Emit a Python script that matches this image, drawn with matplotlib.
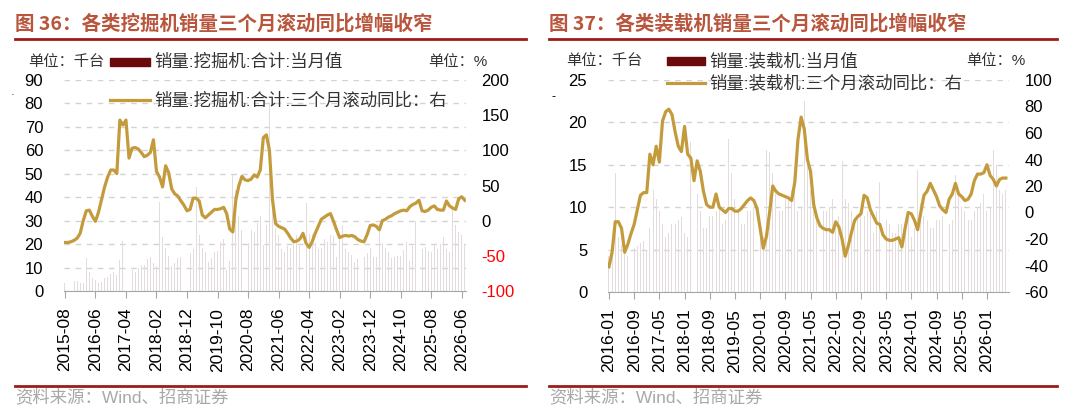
import numpy as np
import pandas as pd
import matplotlib
matplotlib.use("Agg")
import matplotlib.pyplot as plt
from matplotlib.lines import Line2D
from matplotlib.patches import Rectangle

plt.rcParams["font.family"] = ["Liberation Sans", "Noto Sans CJK SC"]

# ---- 挖掘机 (2015-08 .. 2026-07), 千台 / %
exc_months = pd.period_range("2015-08", periods=132, freq="M")
exc_sales = [3.4, 4.0, 3.9, 4.1, 4.2,
             3.3, 3.3, 14.0, 8.0, 5.6, 4.5, 3.6, 4.0, 5.4, 6.1, 7.3, 8.2,
             6.9, 13.1, 21.5, 13.6, 11.0, 9.0, 8.2, 9.6, 11.0, 10.9, 13.8, 14.5,
             11.9, 10.6, 38.0, 23.0, 18.5, 15.0, 10.5, 12.0, 14.0, 14.5, 16.0, 18.7,
             16.0, 18.0, 44.5, 23.8, 18.5, 16.5, 12.5, 14.0, 16.5, 17.0, 21.0, 22.0,
             9.0, 13.0, 49.5, 43.0, 32.0, 26.0, 19.5, 20.5, 26.0, 25.0, 29.0, 32.0,
             19.5, 28.0, 79.6, 47.0, 27.0, 24.0, 18.0, 16.5, 19.0, 18.5, 21.5, 24.0,
             19.0, 24.0, 37.4, 24.5, 24.5, 20.5, 18.0, 18.5, 22.0, 21.0, 24.0, 23.5,
             14.5, 22.5, 28.0, 18.0, 16.5, 15.5, 12.5, 13.5, 15.0, 14.5, 16.0, 18.5,
             14.5, 14.5, 25.5, 20.5, 18.5, 16.5, 14.0, 14.5, 15.0, 15.0, 17.5, 21.0,
             13.0, 19.0, 30.0, 22.5, 18.0, 18.8, 17.0, 16.5, 20.0, 18.0, 20.0, 23.0,
             18.0, 16.5, 36.0, 28.0, 25.0, 24.0, 20.0]
exc_yoy3m = [-31, -31, -30, -28, -25, -18, 0, 14, 15, 6, -1, 12, 30, 48, 62, 72, 72, 67,
             143, 136, 143, 89, 103, 104, 102, 97, 91, 93, 97, 115, 70, 62, 48, 78, 68,
             45, 38, 35, 28, 22, 14, 16, 32, 32, 28, 8, 4, 8, 12, 16, 16, 17, 19, 10,
             -12, -16, 30, 50, 63, 58, 57, 59, 65, 62, 72, 118, 122, 100, 30, -4, -8,
             -10, -12, -18, -25, -30, -29, -26, -18, -32, -38, -30, -18, -8, 2, 5, 8,
             10, -1, -13, -24, -22, -21, -22, -21, -23, -27, -29, -30, -20, -7, -6,
             -8, -13, 0, 2, 5, 7, 10, 12, 14, 15, 14, 20, 23, 25, 29, 14, 13, 15, 19,
             21, 16, 15, 15, 28, 21, 18, 16, 31, 34, 29]

# ---- 装载机 (2016-01 .. 2026-07), 千台 / %
load_months = pd.period_range("2016-01", periods=127, freq="M")
load_sales = [4.3, 4.5, 14.0, 6.5, 5.5, 4.8, 4.2, 4.5, 5.2, 5.4, 5.8, 6.0,
              5.0, 7.5, 12.0, 11.0, 9.5, 8.0, 6.5, 7.0, 8.0, 8.0, 8.5, 8.8,
              7.0, 6.5, 17.7, 14.0, 11.5, 9.5, 7.5, 7.5, 9.0, 9.0, 9.5, 10.0,
              8.0, 8.5, 18.0, 14.0, 11.0, 9.5, 8.0, 8.0, 9.5, 9.5, 10.0, 11.0,
              6.5, 6.5, 16.7, 16.5, 14.0, 11.5, 9.5, 9.5, 11.0, 11.0, 12.0, 12.5,
              9.5, 10.0, 22.5, 16.0, 12.0, 10.5, 8.5, 8.5, 9.5, 9.5, 10.0, 11.0,
              8.0, 9.0, 15.4, 11.0, 10.5, 9.5, 8.0, 8.5, 9.5, 9.0, 9.5, 10.0,
              7.0, 9.5, 13.0, 9.5, 8.5, 8.0, 7.0, 7.0, 8.0, 8.0, 8.5, 9.0,
              6.5, 7.5, 14.4, 10.5, 9.0, 8.5, 7.5, 7.5, 8.5, 8.5, 9.0, 10.0,
              8.0, 8.5, 13.8, 11.5, 10.0, 9.5, 8.5, 8.5, 9.5, 10.0, 10.5, 11.5,
              9.5, 10.0, 16.8, 15.0, 12.0, 11.5, 12.0]
load_yoy3m = [-41, -30, -7, -7, -12, -30, -24, -16, -9, 2, 13, 15, 15, 44, 36, 50, 38,
              69, 76, 78, 74, 61, 50, 46, 65, 44, 41, 24, 39, 31, 16, 6, 4, 4, 14, 4,
              2, 0, 3, 3, 1, 1, 3, 6, 9, 11, 9, 3, -12, -27, -18, 0, 20, 16, 14, 13,
              12, 11, 9, 23, 55, 72, 63, 40, 31, 6, -4, -10, -12, -13, -13, -15, -7,
              -11, -20, -33, -25, -15, -6, -3, -1, 13, 11, 2, -3, -8, -9, -17, -20,
              -21, -21, -20, -19, -26, -12, 0, -1, -6, -13, 0, 13, 16, 22, 17, 12, 5,
              2, 0, 10, 14, 22, 14, 12, 9, 10, 14, 24, 29, 29, 30, 36, 28, 25, 20,
              25, 26, 26]

BAR_C = "#e4dcdc"
PATCH_C = "#6b0a0a"
LINE_C = "#c49b3c"
TITLE_C = "#b8553c"
RULE_C = "#9e1b1b"
GRID_C = "#d3d3d3"

W, H = 1080, 418
fig = plt.figure(figsize=(W / 100, H / 100), dpi=100)


def fx(x):
    return x / W


def fy(y):
    return 1 - y / H


def panel(x0, x1, y0, y1, months, sales, yoy, step, lticks, rticks, xmax, red_neg):
    ax = fig.add_axes([fx(x0), fy(y1), fx(x1 - x0), (y1 - y0) / H])
    x = np.arange(len(months))
    ax.bar(x, sales, width=0.3, color=BAR_C, zorder=1)
    ax.set_xlim(-0.3, xmax)
    ax.set_ylim(lticks[0], lticks[-1])
    ax.set_yticks(lticks)
    ax.set_yticklabels([str(t) for t in lticks])
    ax.yaxis.grid(True, ls=(0, (4, 4)), color=GRID_C, lw=1)
    ax.set_axisbelow(True)
    for s in ["top", "left", "right"]:
        ax.spines[s].set_visible(False)
    ax.spines["bottom"].set_color("#a6a6a6")
    ax.tick_params(axis="y", length=0, pad=15, labelsize=12)
    ax.set_xticks(x[::step])
    ax.set_xticklabels([m.strftime("%Y-%m") for m in months[::step]], rotation=90)
    ax.tick_params(axis="x", length=5, color="#a6a6a6", pad=7, labelsize=12.5)

    ax2 = ax.twinx()
    ax2.plot(x, yoy, color=LINE_C, lw=2.3, solid_joinstyle="round")
    ax2.set_ylim(rticks[0], rticks[-1])
    ax2.set_yticks(rticks)
    ax2.set_yticklabels([str(t) for t in rticks])
    for s in ax2.spines.values():
        s.set_visible(False)
    ax2.tick_params(axis="y", length=0, pad=11, labelsize=12)
    if red_neg:
        for lbl, t in zip(ax2.get_yticklabels(), rticks):
            if t < 0:
                lbl.set_color("#ff0000")
    return ax, ax2


def header(x0, x1, title):
    fig.text(fx(x0), fy(24), title, fontsize=14, fontweight="bold", color=TITLE_C,
             va="center", ha="left", family=["Noto Sans CJK SC"])
    fig.add_artist(Line2D([fx(x0), fx(x1)], [fy(39), fy(39)], color=RULE_C, lw=2))
    fig.add_artist(Line2D([fx(x0), fx(x1)], [fy(386), fy(386)], color=RULE_C, lw=2))
    fig.text(fx(x0), fy(397), "资料来源：Wind、招商证券", fontsize=12.5, color="#a8a8a8",
             va="center", ha="left")


def legend(unit_x, sw_x0, sw_x1, y_a, y_b, pct_x, lab1, lab2):
    fs = 12.5
    fig.text(fx(unit_x), fy(y_a), "单位：千台", fontsize=11, va="center", ha="left",
             color="#333333")
    fig.add_artist(Rectangle((fx(sw_x0), fy(y_a + 4)), fx(sw_x1 - sw_x0), 8 / H,
                             color=PATCH_C, transform=fig.transFigure))
    fig.text(fx(sw_x1 + 4), fy(y_a), lab1, fontsize=fs, va="center", ha="left",
             color="#333333")
    fig.add_artist(Line2D([fx(sw_x0), fx(sw_x1)], [fy(y_b), fy(y_b)], color=LINE_C, lw=2.3))
    fig.text(fx(sw_x1 + 4), fy(y_b), lab2, fontsize=fs, va="center", ha="left",
             color="#333333")
    fig.text(fx(pct_x), fy(y_a), "单位：%", fontsize=11, va="center", ha="left",
             color="#333333")


# left panel: excavators
panel(64, 466, 80, 291, exc_months, exc_sales, exc_yoy3m, 10,
      list(range(0, 91, 10)), list(range(-100, 201, 50)), 131.4, True)
header(15, 526, "图 36：各类挖掘机销量三个月滚动同比增幅收窄")
legend(28, 110, 150, 62, 100, 428,
       "销量:挖掘机:合计:当月值", "销量:挖掘机:合计:三个月滚动同比：右")
fig.text(fx(13), fy(95), "·", fontsize=8, va="center", ha="center")

# right panel: loaders
panel(608, 1009, 80, 292, load_months, load_sales, load_yoy3m, 8,
      list(range(0, 26, 5)), list(range(-60, 101, 20)), 127.0, False)
header(549, 1057, "图 37：各类装载机销量三个月滚动同比增幅收窄")
legend(566, 667, 705, 61, 83, 966,
       "销量:装载机:当月值", "销量:装载机:三个月滚动同比：右")
fig.text(fx(554), fy(97), "-", fontsize=9, va="center", ha="center")

fig.savefig("out.png", dpi=100)
